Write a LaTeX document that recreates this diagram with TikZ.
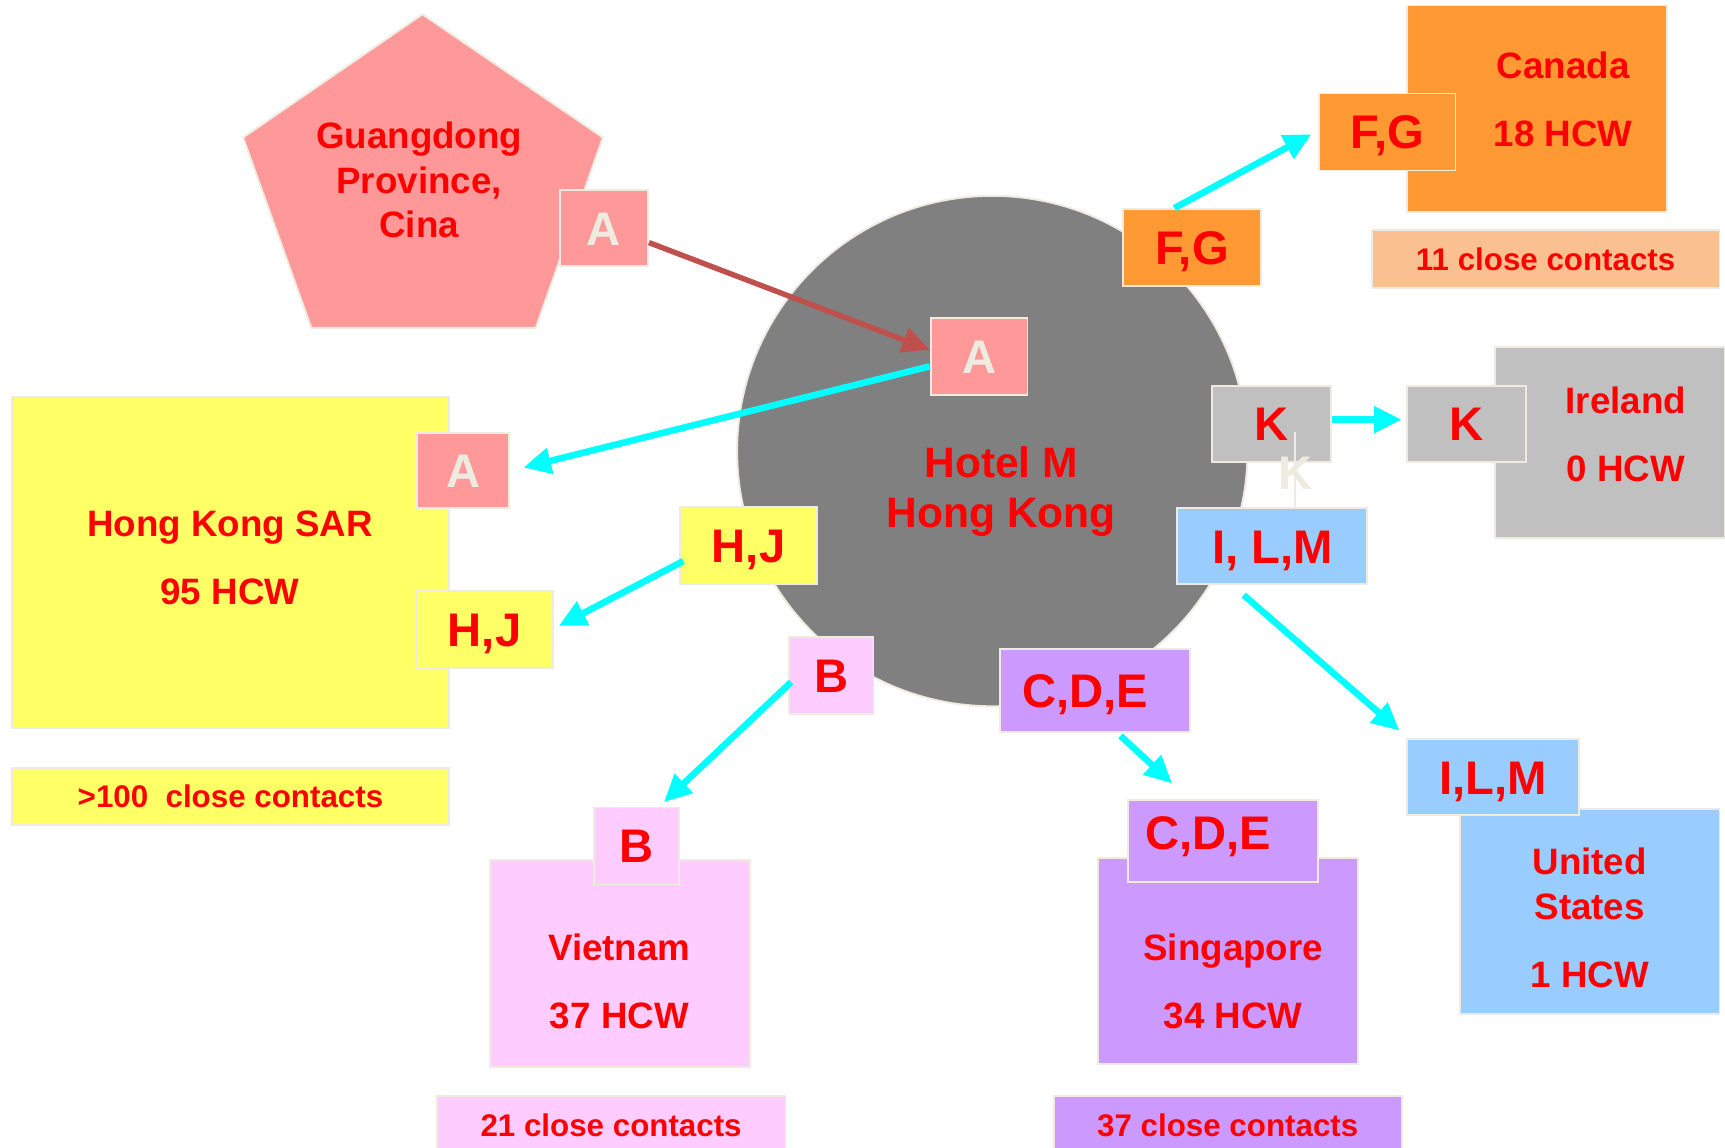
\documentclass[tikz,border=0pt]{standalone}
\usepackage{fontspec}
\setmainfont{Liberation Sans}
\usetikzlibrary{arrows.meta, calc}

\definecolor{cream}{HTML}{EEECE1}
\definecolor{salmon}{HTML}{FF9999}
\definecolor{brick}{HTML}{C0504D}
\definecolor{aqua}{HTML}{00FFFF}
\definecolor{hotelgray}{HTML}{808080}
\definecolor{tangerine}{HTML}{FF9933}
\definecolor{peach}{HTML}{FAC090}
\definecolor{silver}{HTML}{C0C0C0}
\definecolor{sky}{HTML}{99CCFF}
\definecolor{lilac}{HTML}{CC99FF}
\definecolor{blush}{HTML}{FFCCFF}
\definecolor{lemon}{HTML}{FFFF66}
\definecolor{alert}{HTML}{FF0000}

\begin{document}
\begin{tikzpicture}[x = 0.1mm, y = -0.1mm, > = {Triangle[length = 2.5mm, width = 2.3mm]},
	box/.style = {draw = cream, line width = 0.5pt, inner sep = 0pt, text = alert, text height = 8.7pt, text depth = 0pt, font = \bfseries\fontsize{12.2}{14}\selectfont},
	contacts/.style = {box, text height = 5.8pt, font = \bfseries\fontsize{8.1}{10}\selectfont},
	place/.style = {text = alert, align = center, font = \bfseries\fontsize{9.5}{17.6}\selectfont},
	spread/.style = {aqua, line width = 1.7pt, ->}]

	\useasboundingbox (0, 0) rectangle (1568, 1043);
	\clip (0, 0) rectangle (1568, 1043);

	% Guangdong

	\filldraw [fill = salmon, draw = cream, line width = 0.5pt] (384, 13) -- (548, 125) -- (487, 298) -- (283, 298) -- (221, 125) -- cycle;
	\node [place, font = \bfseries\fontsize{9.5}{11.4}\selectfont] (guangdong) at (381, 163.5) {Guangdong\\Province,\\Cina};
	\node [box, fill = salmon, text = cream, minimum width = 8mm, minimum height = 6.9mm] (agd) at (549, 207.5) {A};

	% Hotel

	\node [circle, draw = cream, line width = 0.5pt, fill = hotelgray, minimum size = 46.4mm] (hotel) at (902, 410) {};
	\node [place, font = \bfseries\fontsize{11}{13}\selectfont] (hoteltext) at (910, 447) {Hotel M\\Hong Kong};

	\node [box, fill = salmon, text = cream, minimum width = 8.8mm, minimum height = 7mm] (acen) at (890, 324) {A};
	\node [box, fill = tangerine, minimum width = 12.5mm, minimum height = 7mm] (fgc) at (1083.5, 225) {F,G};
	\node [box, fill = silver, minimum width = 10.8mm, minimum height = 6.9mm] (kc) at (1156, 385.5) {K};
	\node [box, fill = sky, minimum width = 17.3mm, minimum height = 6.9mm] (ilmc) at (1156.5, 496.5) {I, L,M};
	\node [box, fill = lilac, minimum width = 17.3mm, minimum height = 7.5mm] (cdec) at (995.5, 627.5) {C,D,E\kern1.8mm};
	\node [box, fill = blush, minimum width = 7.7mm, minimum height = 7mm] (bc) at (755.5, 614) {B};
	\node [box, fill = lemon, minimum width = 12.5mm, minimum height = 7mm] (hjc) at (680.5, 496) {H,J};

	\node [box, draw = none, text = cream] (kghost) at (1178, 430) {K};
	\draw [cream, line width = 0.5pt] (1177, 393) -- (1177, 463);

	% Canada

	\node [box, fill = tangerine, minimum width = 23.6mm, minimum height = 18.8mm] (canada) at (1397, 99) {};
	\node [place] (canadatext) at (1421, 90) {Canada\\18 HCW};
	\node [box, fill = tangerine, minimum width = 12.4mm, minimum height = 7mm] (fgca) at (1261, 120) {F,G};
	\node [contacts, fill = peach, minimum width = 31.6mm, minimum height = 5.3mm] (close11) at (1405, 235.5) {11 close contacts};

	% Ireland

	\node [box, fill = silver, minimum width = 20.9mm, minimum height = 17.4mm] (ireland) at (1463.5, 402) {};
	\node [place] (irelandtext) at (1478, 395) {Ireland\\0 HCW};
	\node [box, fill = silver, minimum width = 10.8mm, minimum height = 6.9mm] (ki) at (1333, 385.5) {K};

	% United States

	\node [box, fill = sky, minimum width = 23.6mm, minimum height = 18.7mm] (usa) at (1445, 828.5) {};
	\node [place, font = \bfseries\fontsize{9.5}{11.7}\selectfont] (usatext) at (1445, 834.5) {United\\States\\[2.1mm]1 HCW};
	\node [box, fill = sky, minimum width = 15.6mm, minimum height = 6.9mm] (ilmu) at (1357, 706.5) {I,L,M};

	% Singapore

	\node [box, fill = lilac, minimum width = 23.6mm, minimum height = 18.7mm] (singapore) at (1116, 873.5) {};
	\node [place] (singaporetext) at (1121, 892) {Singapore\\34 HCW};
	\node [box, fill = lilac, text depth = 1.6mm, minimum width = 17.3mm, minimum height = 7.5mm] (cdes) at (1111.5, 764.5) {C,D,E\kern2.6mm};
	\node [contacts, fill = lilac, minimum width = 31.6mm, minimum height = 5.4mm] (close37) at (1116, 1023) {37 close contacts};

	% Vietnam

	\node [box, fill = blush, minimum width = 23.7mm, minimum height = 18.8mm] (vietnam) at (563.5, 876) {};
	\node [place] (vietnamtext) at (563, 892) {Vietnam\\37 HCW};
	\node [box, fill = blush, minimum width = 7.7mm, minimum height = 7mm] (bv) at (578.5, 769) {B};
	\node [contacts, fill = blush, minimum width = 31.7mm, minimum height = 5.4mm] (close21) at (555.5, 1023) {21 close contacts};

	% Hong Kong SAR

	\node [box, fill = lemon, minimum width = 39.7mm, minimum height = 30.1mm] (hksar) at (209.5, 511.5) {};
	\node [place] (hksartext) at (209, 507) {Hong Kong SAR\\95 HCW};
	\node [box, fill = salmon, text = cream, minimum width = 8.4mm, minimum height = 6.8mm] (ahk) at (421, 428) {A};
	\node [box, fill = lemon, minimum width = 12.5mm, minimum height = 7mm] (hjh) at (440.5, 572) {H,J};
	\node [contacts, fill = lemon, minimum width = 39.7mm, minimum height = 5.2mm] (close100) at (209.5, 724) {>100\ \ close contacts};

	% Arrows

	\draw [brick, line width = 1.4pt, ->] ($(agd.east) + (0, 13)$) -- ($(acen.west) + (0, -6)$);
	\draw [spread] ($(acen.west) + (0, 9)$) -- ($(ahk.east) + (12, -3)$);
	\draw [spread] ($(fgc.north) + (-16, 0)$) -- ($(fgca.west) + (-6, 2)$);
	\draw [spread] ($(kc.east) + (0, -4)$) -- ($(ki.west) + (-4, -4)$);
	\draw [spread] ($(ilmc.south) + (-26, 9)$) -- ($(ilmu.north west) + (-6, -7)$);
	\draw [spread] ($(cdec.south) + (23, 3)$) -- ($(cdes.north) + (-46, -14)$);
	\draw [spread] ($(bc.west) + (3, 6)$) -- ($(bv.north) + (25, -4)$);
	\draw [spread] ($(hjc.west) + (4, 14)$) -- ($(hjh.east) + (4, -3)$);

\end{tikzpicture}
\end{document}
